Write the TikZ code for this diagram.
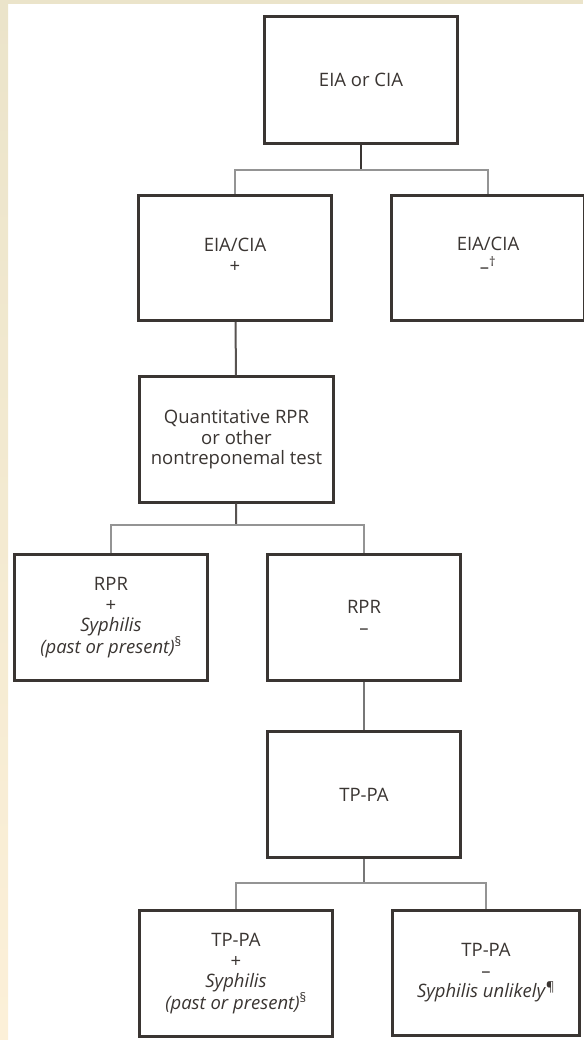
\documentclass[tikz,border=0pt]{standalone}
\usepackage{fontspec}
\setmainfont{Open Sans}
\usetikzlibrary{positioning}
\definecolor{ink}{HTML}{3A3532}
\definecolor{wire}{HTML}{8C8C8C}
\definecolor{paperA}{HTML}{EBE4CA}
\definecolor{paperB}{HTML}{FCF0D8}
\tikzstyle{test} = [draw=ink,line width=2.6pt,rectangle,inner sep=0,minimum width=193.5pt,minimum height=125.5pt,fill=white,align=center,text=ink,font=\fontsize{18.5}{20.5}\selectfont]
\tikzstyle{stem} = [-,draw=ink,line width=2pt]
\tikzstyle{trunk} = [-,draw=wire!85!black,line width=2pt]
\tikzstyle{branch} = [-,draw=black!65,double=black!42,double distance=1.1pt,line width=0.75pt]
\newcommand\lowered[1]{\raisebox{-8pt}{\begin{tabular}{@{}c@{}}#1\end{tabular}}}

\begin{document}
\begin{tikzpicture}[x=1pt,y=-1pt]
  \useasboundingbox (0,0) rectangle (583,1040);
  % paper edge
  \fill[paperA] (0,0) rectangle (583,4);
  \shade[top color=paperA,bottom color=paperB] (0,0) rectangle (8,1040);

  % tests
  \node[test,minimum height=127.5pt] (eia) at (361,80) {EIA or CIA};
  \node[test] (eiapos) at (235,258) {\lowered{EIA/CIA\\+}};
  \node[test] (eianeg) at (488,258) {\lowered{EIA/CIA\\–\textsuperscript{†}}};
  \node[test] (rpr) at (236.5,439.5) {Quantitative RPR\\or other\\nontreponemal test};
  \node[test] (rprpos) at (111,617.5) {RPR\\+\\\textit{Syphilis}\\\textit{(past or present)}\textsuperscript{§}};
  \node[test] (rprneg) at (364,617.5) {RPR\\–};
  \node[test] (tppa) at (364,794.5) {TP-PA};
  \node[test] (tppapos) at (236,973.5) {TP-PA\\+\\\textit{Syphilis}\\\textit{(past or present)}\textsuperscript{§}};
  \node[test,minimum width=187.5pt] (tppaneg) at (486,973) {TP-PA\\–\\\textit{Syphilis unlikely}\textsuperscript{¶}};

  % splits
  \coordinate (s1) at (361,170);
  \coordinate (s2) at (236,525);
  \coordinate (s3) at (364,883);

  % links
  \draw[stem] (eia) -- (s1);
  \draw[branch] (eiapos.north) |- (s1) -| (eianeg.north);
  \draw[stem,draw=ink!85] (eiapos) -- (rpr);
  \draw[stem,draw=ink!85] (rpr) -- (s2);
  \draw[branch] (rprpos.north) |- (s2) -| (rprneg.north);
  \draw[trunk] (rprneg) -- (tppa);
  \draw[trunk] (tppa) -- (s3);
  \draw[branch] (tppapos.north) |- (s3) -| (tppaneg.north);
\end{tikzpicture}
\end{document}
